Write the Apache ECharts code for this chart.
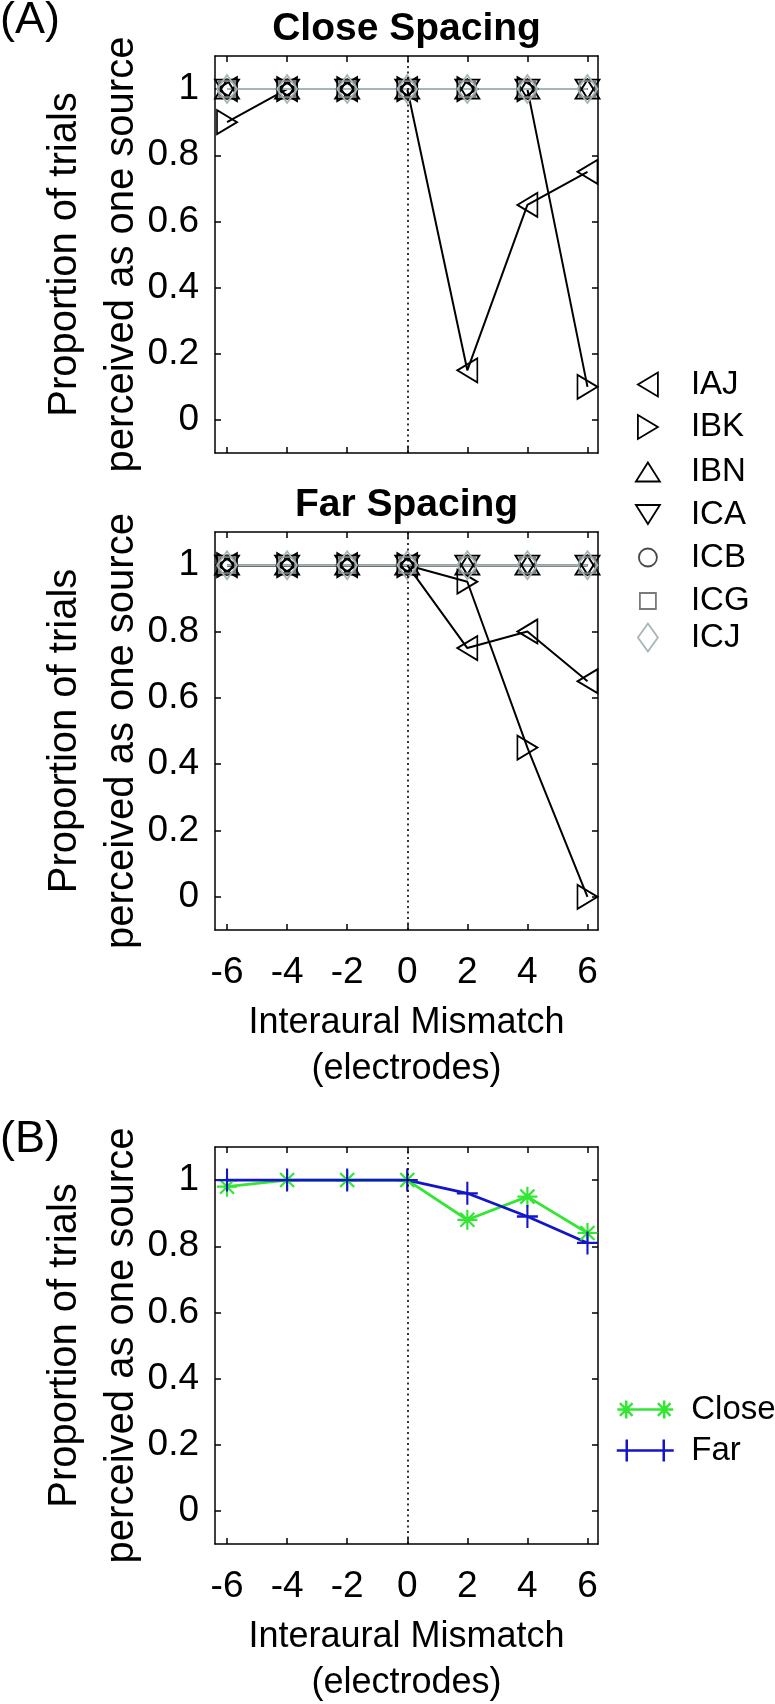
<!DOCTYPE html>
<html><head><meta charset="utf-8">
<script src="https://cdn.jsdelivr.net/npm/echarts@6/dist/echarts.min.js"></script>
<style>html,body{margin:0;padding:0;background:#fff}#c{width:775px;height:1704px}</style>
</head><body><div id="c"></div>
<script>
// ---- data ----
const mismatch = [-6, -4, -2, 0, 2, 4, 6];
const xTicks = [-6, -4, -2, 0, 2, 4, 6];
const yTicks = [0, 0.2, 0.4, 0.6, 0.8, 1];
const subjects = ['IAJ', 'IBK', 'IBN', 'ICA', 'ICB', 'ICG', 'ICJ'];

const closeIAJ = [1, 1, 1, 1, 0.15, 0.65, 0.75];
const closeIBK = [0.9, 1, 1, 1, 1, 1, 0.1];
const closeIBN = [1, 1, 1, 1, 1, 1, 1];
const closeICA = [1, 1, 1, 1, 1, 1, 1];
const closeICB = [1, 1, 1, 1, 1, 1, 1];
const closeICG = [1, 1, 1, 1, 1, 1, 1];
const closeICJ = [1, 1, 1, 1, 1, 1, 1];

const farIAJ = [1, 1, 1, 1, 0.75, 0.8, 0.65];
const farIBK = [1, 1, 1, 1, 0.95, 0.45, 0];
const farIBN = [1, 1, 1, 1, 1, 1, 1];
const farICA = [1, 1, 1, 1, 1, 1, 1];
const farICB = [1, 1, 1, 1, 1, 1, 1];
const farICG = [1, 1, 1, 1, 1, 1, 1];
const farICJ = [1, 1, 1, 1, 1, 1, 1];

const meanClose = [0.98, 1, 1, 1, 0.88, 0.95, 0.84];
const meanFar = [1, 1, 1, 1, 0.96, 0.89, 0.81];

const closeData = {IAJ: closeIAJ, IBK: closeIBK, IBN: closeIBN, ICA: closeICA, ICB: closeICB, ICG: closeICG, ICJ: closeICJ};
const farData = {IAJ: farIAJ, IBK: farIBK, IBN: farIBN, ICA: farICA, ICB: farICB, ICG: farICG, ICJ: farICJ};

// ---- styles ----
const FONT = 'Liberation Sans, Arial, sans-serif';
const subjStyle = {
  IAJ: {symbol: 'path://M20,0L0,12L20,24Z', size: [20, 24], w: 20, h: 24, color: '#000'},
  IBK: {symbol: 'path://M0,0L20,12L0,24Z', size: [20, 24], w: 20, h: 24, color: '#000'},
  IBN: {symbol: 'path://M12,0L24,19L0,19Z', size: [24, 19], w: 24, h: 19, color: '#000'},
  ICA: {symbol: 'path://M0,0L24,0L12,19Z', size: [24, 19], w: 24, h: 19, color: '#000'},
  ICB: {symbol: 'circle', size: 18, w: 18, h: 18, color: '#474747'},
  ICG: {symbol: 'path://M0,0L16,0L16,16L0,16Z', size: 16, w: 16, h: 16, color: '#7a7a7a'},
  ICJ: {symbol: 'path://M10,0L20,14L10,28L0,14Z', size: [20, 28], w: 20, h: 28, color: '#a6b5b7'}
};
function asterisk(cx, cy, r) {
  const d = r * 0.7;
  return `M${cx},${cy - r}L${cx},${cy + r}M${cx - r},${cy}L${cx + r},${cy}` +
         `M${cx - d},${cy - d}L${cx + d},${cy + d}M${cx + d},${cy - d}L${cx - d},${cy + d}`;
}
function plus(cx, cy, rx, ry) {
  return `M${cx},${cy - ry}L${cx},${cy + ry}M${cx - rx},${cy}L${cx + rx},${cy}`;
}
const meanStyle = {
  Close: {color: '#33e633', symbol: 'path://' + asterisk(10, 10, 10), size: 20,
          legendIcon: 'path://M2,10L54,10' + asterisk(9, 10, 9) + asterisk(47, 10, 9), lw: 56, lh: 18},
  Far: {color: '#1414c8', symbol: 'path://' + plus(10, 11, 10, 11), size: [21, 23],
        legendIcon: 'path://M0,11L57,11' + plus(10, 11, 10, 11) + plus(47, 11, 10, 11), lw: 57, lh: 22}
};

const grids = [
  {left: 215, top: 56, width: 383, height: 397},
  {left: 215, top: 532, width: 383, height: 398},
  {left: 215, top: 1147, width: 383, height: 397}
];
grids.forEach(g => g.outerBoundsMode = 'none');

const xAxes = [], yAxes = [];
function addAxes(g, showXLabels, title) {
  const line = {show: true, onZero: false, lineStyle: {color: '#000', width: 1.5}};
  const tick = (vals) => ({show: true, inside: true, length: 6, customValues: vals, lineStyle: {color: '#000', width: 1.5}});
  xAxes.push({
    gridIndex: g, type: 'value', min: -6.4, max: 6.35, position: 'bottom',
    axisLine: line, axisTick: tick(xTicks),
    axisLabel: {show: showXLabels, customValues: xTicks, fontSize: 37, color: '#000', margin: 24, fontFamily: FONT},
    splitLine: {show: false},
    name: showXLabels ? 'Interaural Mismatch\n(electrodes)' : '',
    nameLocation: 'middle', nameGap: 70, nameMoveOverlap: false,
    nameTextStyle: {fontSize: 36, lineHeight: 46, color: '#000', fontFamily: FONT}
  });
  xAxes.push({
    gridIndex: g, type: 'value', min: -6.4, max: 6.35, position: 'top',
    axisLine: line, axisTick: tick(xTicks), axisLabel: {show: false}, splitLine: {show: false},
    name: title || '', nameLocation: 'middle', nameGap: 7, nameMoveOverlap: false,
    nameTextStyle: {fontSize: 39, fontWeight: 'bold', lineHeight: 39, color: '#000', fontFamily: FONT}
  });
  yAxes.push({
    gridIndex: g, type: 'value', min: -0.1, max: 1.1, position: 'left',
    axisLine: line, axisTick: tick(yTicks),
    axisLabel: {customValues: yTicks, fontSize: 37, color: '#000', margin: 16, fontFamily: FONT},
    splitLine: {show: false},
    name: 'Proportion of trials\nperceived as one source',
    nameLocation: 'middle', nameGap: 65, nameMoveOverlap: false,
    nameTextStyle: {fontSize: 40, lineHeight: 57, color: '#000', fontFamily: FONT}
  });
  yAxes.push({
    gridIndex: g, type: 'value', min: -0.1, max: 1.1, position: 'right',
    axisLine: line, axisTick: tick(yTicks), axisLabel: {show: false}, splitLine: {show: false}
  });
}
addAxes(0, false, 'Close Spacing');
addAxes(1, true, 'Far Spacing');
addAxes(2, true, null);

const zeroLine = {
  silent: true, symbol: ['none', 'none'], label: {show: false},
  lineStyle: {type: [2, 3.5], color: '#000', width: 1.6},
  emphasis: {disabled: true},
  data: [{xAxis: 0}]
};

const series = [];
function subjSeries(name, vals, g, withMark) {
  const st = subjStyle[name];
  const s = {
    name, type: 'line', xAxisIndex: g * 2, yAxisIndex: g * 2,
    data: mismatch.map((x, i) => [x, vals[i]]),
    symbol: st.symbol, symbolSize: st.size, showAllSymbol: true,
    lineStyle: {color: st.color, width: 2},
    itemStyle: {color: 'rgba(0,0,0,0)', borderColor: st.color, borderWidth: 1.8},
    emphasis: {disabled: true}, animation: false
  };
  if (withMark) s.markLine = zeroLine;
  return s;
}
subjects.forEach((n, i) => series.push(subjSeries(n, closeData[n], 0, i === 0)));
subjects.forEach((n, i) => series.push(subjSeries(n, farData[n], 1, i === 0)));
[['Close', meanClose], ['Far', meanFar]].forEach(([n, vals], i) => {
  const st = meanStyle[n];
  const s = {
    name: n, type: 'line', xAxisIndex: 4, yAxisIndex: 4,
    data: mismatch.map((x, k) => [x, vals[k]]),
    symbol: st.symbol, symbolSize: st.size, showAllSymbol: true,
    lineStyle: {color: st.color, width: 2.8},
    itemStyle: {color: st.color, borderColor: st.color, borderWidth: 2.2},
    emphasis: {disabled: true}, animation: false
  };
  if (i === 0) s.markLine = zeroLine;
  series.push(s);
});

// ---- legends: one component per entry; icon box = icon size, text pushed to a common column ----
const legends = [];
const TEXT_X = 690;
subjects.forEach((n, i) => {
  const st = subjStyle[n];
  const cy = 380 + i * 42.5;
  const left = 647 - st.w / 2;
  legends.push({
    orient: 'vertical', left: left, top: cy - st.h / 2, padding: 0,
    itemWidth: st.w, itemHeight: st.h, symbolKeepAspect: true, symbolRotate: 0,
    selectedMode: false,
    textStyle: {fontSize: 33, color: '#000', fontFamily: FONT, padding: [0, 0, 0, TEXT_X - (left + st.w + 5)]},
    itemStyle: {borderWidth: 1.8},
    data: [{name: n, icon: st.symbol}]
  });
});
['Close', 'Far'].forEach((n, i) => {
  const st = meanStyle[n];
  const cy = 1402 + i * 43;
  const left = 644 - st.lw / 2;
  legends.push({
    orient: 'vertical', left: left, top: cy - st.lh / 2, padding: 0,
    itemWidth: st.lw, itemHeight: st.lh, symbolKeepAspect: true, symbolRotate: 0,
    selectedMode: false,
    textStyle: {fontSize: 33, color: '#000', fontFamily: FONT, padding: [0, 0, 0, TEXT_X - (left + st.lw + 5)]},
    itemStyle: {borderWidth: 2.5, color: 'rgba(0,0,0,0)'},
    data: [{name: n, icon: st.legendIcon}]
  });
});

const chart = echarts.init(document.getElementById('c'), null, {renderer: 'canvas', width: 775, height: 1704});
chart.setOption({
  backgroundColor: '#fff',
  animation: false,
  textStyle: {fontFamily: FONT, color: '#000'},
  grid: grids,
  xAxis: xAxes,
  yAxis: yAxes,
  legend: legends,
  series: series,
  graphic: [
    {type: 'text', left: 0, top: -2, style: {text: '(A)', fontSize: 45, fill: '#000', fontFamily: FONT}},
    {type: 'text', left: 0, top: 1117, style: {text: '(B)', fontSize: 45, fill: '#000', fontFamily: FONT}}
  ]
});
</script>
</body></html>
